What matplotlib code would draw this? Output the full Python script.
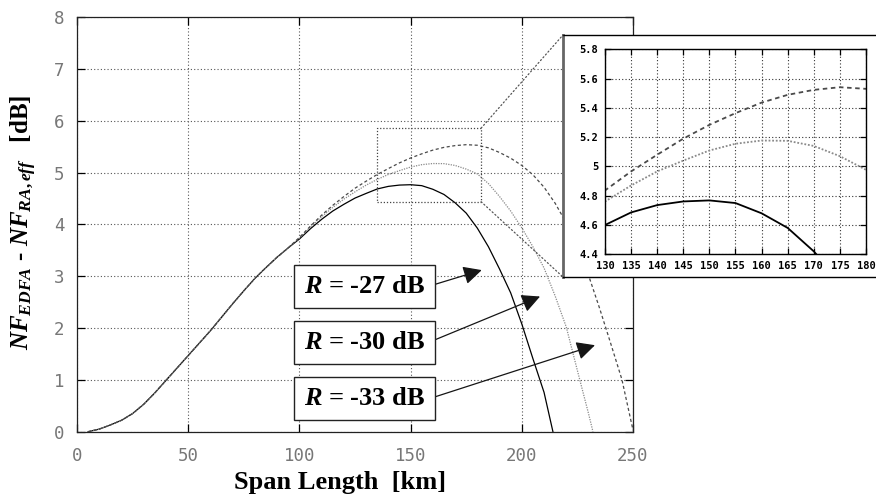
import matplotlib
matplotlib.use("Agg")
import matplotlib.pyplot as plt
from matplotlib.patches import Rectangle, ConnectionPatch
from matplotlib.ticker import MultipleLocator, FuncFormatter

plt.rcParams['mathtext.fontset'] = 'custom'
plt.rcParams['mathtext.rm'] = 'Liberation Serif:bold'
plt.rcParams['mathtext.it'] = 'Liberation Serif:italic:bold'
plt.rcParams['mathtext.bf'] = 'Liberation Serif:bold'

# common rising part (all three curves overlap here)
span_rise = [5, 10, 15, 20, 25, 30, 35, 40, 45, 50, 55, 60, 65, 70, 75, 80, 85, 90, 95]
nf_rise = [0.0, 0.05, 0.13, 0.22, 0.35, 0.53, 0.75, 0.99, 1.23, 1.47, 1.71, 1.95, 2.21,
           2.47, 2.72, 2.96, 3.17, 3.37, 3.55]

# R = -27 dB
span_27 = [100, 105, 110, 115, 120, 125, 130, 135, 140, 145, 150, 155, 160, 165, 170,
           175, 180, 185, 190, 195, 200, 205, 210, 214]
nf_27 = [3.72, 3.92, 4.10, 4.26, 4.39, 4.51, 4.60, 4.686, 4.736, 4.761, 4.768, 4.75,
         4.68, 4.58, 4.42, 4.22, 3.93, 3.57, 3.14, 2.68, 2.08, 1.41, 0.76, 0.0]

# R = -30 dB
span_30 = [100, 105, 110, 115, 120, 125, 130, 135, 140, 145, 150, 155, 160, 165, 170,
           175, 180, 185, 190, 195, 200, 205, 210, 215, 220, 225, 230, 232]
nf_30 = [3.74, 3.95, 4.15, 4.33, 4.49, 4.63, 4.76, 4.87, 4.966, 5.04, 5.109, 5.155,
         5.177, 5.175, 5.14, 5.07, 4.977, 4.79, 4.54, 4.26, 3.935, 3.57, 3.16, 2.62,
         2.02, 1.18, 0.35, 0.0]

# R = -33 dB
span_33 = [100, 105, 110, 115, 120, 125, 130, 135, 140, 145, 150, 155, 160, 165, 170,
           175, 180, 185, 190, 195, 200, 205, 210, 215, 220, 225, 230, 235, 240, 245, 250]
nf_33 = [3.75, 3.97, 4.18, 4.37, 4.54, 4.70, 4.836, 4.966, 5.08, 5.19, 5.284, 5.364,
         5.436, 5.489, 5.523, 5.541, 5.53, 5.48, 5.39, 5.28, 5.14, 4.96, 4.72, 4.41,
         4.03, 3.56, 3.02, 2.38, 1.70, 1.01, 0.03]

labels = ['-27', '-30', '-33']
label_pos = [(129.4, 2.81), (129.4, 1.72), (129.4, 0.635)]
arrow_tips = [(182.0, 3.12), (208.2, 2.61), (232.9, 1.67)]

styles = [dict(color='black', linestyle='-'),
          dict(color='#8a8a8a', linestyle=(0, (1, 1))),
          dict(color='#4a4a4a', linestyle=(0, (2.5, 2)))]

series = [(span_rise + span_27, nf_rise + nf_27),
          (span_rise + span_30, nf_rise + nf_30),
          (span_rise + span_33, nf_rise + nf_33)]

fig = plt.figure(figsize=(8.76, 4.99), dpi=100)
ax = fig.add_axes([77 / 876, 1 - 431.7 / 499, 556 / 876, 414.4 / 499])

for (xs, ys), st in zip(series, styles):
    ax.plot(xs, ys, linewidth=0.9, **st)

ax.set_xlim(0, 250)
ax.set_ylim(0, 8)
ax.xaxis.set_major_locator(MultipleLocator(50))
ax.yaxis.set_major_locator(MultipleLocator(1))
ax.grid(True, linestyle=(0, (1, 2)), color='#555555', linewidth=0.8)
ax.tick_params(direction='in', top=True, right=True, length=6, width=0.9,
               labelsize=12.5, labelcolor='#777777', pad=9)
ax.tick_params(axis='x', pad=11)
for lab in ax.get_xticklabels() + ax.get_yticklabels():
    lab.set_family('DejaVu Sans Mono')
for sp in ax.spines.values():
    sp.set_linewidth(0.9)
    sp.set_color('#222222')

# zoom rectangle
ax.add_patch(Rectangle((135, 4.44), 46.7, 1.42, fill=False, edgecolor='#444444',
                       linestyle=(0, (1, 1.5)), linewidth=0.9, zorder=3))

# label boxes with arrows
for lab, pos, tip in zip(labels, label_pos, arrow_tips):
    ax.annotate(r'$R$ = ' + lab + ' dB', xy=tip, xytext=pos, ha='center', va='center',
                fontsize=19, family='Liberation Serif', weight='bold',
                bbox=dict(boxstyle='square,pad=0.38', facecolor='white',
                          edgecolor='#222222', linewidth=1),
                arrowprops=dict(arrowstyle='-|>,head_length=0.7,head_width=0.35',
                                color='#151515', linewidth=0.9, mutation_scale=16,
                                relpos=(1.0, 0.45), shrinkA=0, shrinkB=0),
                zorder=5)

fig.text(340 / 876, 1 - 483 / 499, 'Span Length  [km]', ha='center', va='center',
         fontsize=19, family='Liberation Serif', weight='bold')
fig.text(24 / 876, 1 - 222 / 499, r'$NF_{EDFA}$ - $NF_{RA,eff}$   [dB]', rotation=90,
         ha='center', va='center', fontsize=18, family='Liberation Serif', weight='bold')

# inset frame
box = fig.add_axes([563 / 876, 1 - 277 / 499, 312 / 876, 242 / 499])
box.set_xticks([])
box.set_yticks([])
box.set_facecolor('white')
for sp in box.spines.values():
    sp.set_linewidth(1.0)
    sp.set_color('black')
box.spines['left'].set_color('#666666')
box.spines['left'].set_linewidth(2.0)
box.spines['right'].set_visible(False)

# connector lines
for yA, yB in [(5.86, 1.0), (4.44, 0.0)]:
    con = ConnectionPatch(xyA=(181.7, yA), coordsA=ax.transData, xyB=(0, yB),
                          coordsB=box.transAxes, color='#555555',
                          linestyle=(0, (1, 2)), linewidth=0.9)
    fig.add_artist(con)

ins = fig.add_axes([605 / 876, 1 - 254.3 / 499, 261 / 876, 205 / 499])
for (xs, ys), st in zip(series, styles):
    ins.plot(xs, ys, linewidth=1.3, **st)
ins.set_xlim(130, 180)
ins.set_ylim(4.4, 5.8)
ins.xaxis.set_major_locator(MultipleLocator(5))
ins.yaxis.set_major_locator(MultipleLocator(0.2))
ins.yaxis.set_major_formatter(FuncFormatter(lambda v, p: '%g' % round(v, 1)))
ins.grid(True, linestyle=(0, (1, 2)), color='#333333', linewidth=0.8)
ins.tick_params(direction='in', top=True, right=True, length=4, width=0.9,
                labelsize=7.5, pad=5)
for lab in ins.get_xticklabels() + ins.get_yticklabels():
    lab.set_family('DejaVu Sans Mono')
    lab.set_weight('bold')
for sp in ins.spines.values():
    sp.set_linewidth(1.0)
    sp.set_color('black')

fig.savefig('out.png', dpi=100)
